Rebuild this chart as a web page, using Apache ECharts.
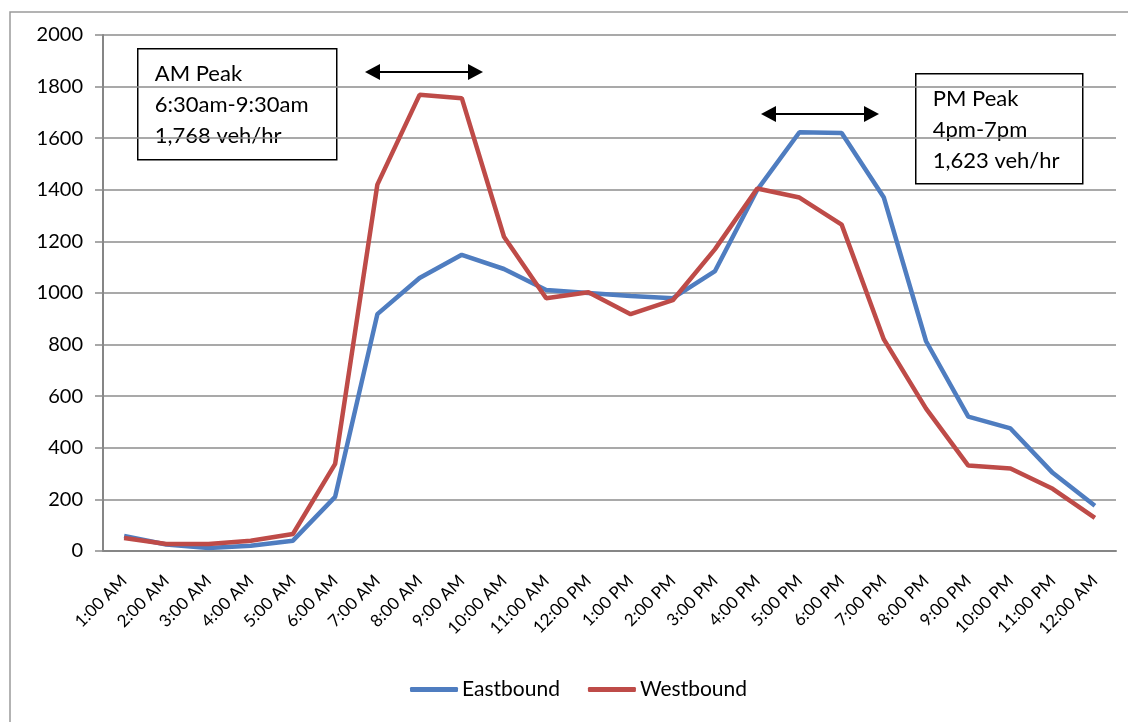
<!DOCTYPE html>
<html>
<head>
<meta charset="utf-8">
<script src="https://cdn.jsdelivr.net/npm/echarts@6/dist/echarts.min.js"></script>
<style>
  html, body { margin: 0; padding: 0; background: #fff; }
  #chart { width: 1128px; height: 722px; }
</style>
</head>
<body>
<div id="chart"></div>
<script>
const hours = ['1:00 AM', '2:00 AM', '3:00 AM', '4:00 AM', '5:00 AM', '6:00 AM', '7:00 AM', '8:00 AM',
  '9:00 AM', '10:00 AM', '11:00 AM', '12:00 PM', '1:00 PM', '2:00 PM', '3:00 PM', '4:00 PM',
  '5:00 PM', '6:00 PM', '7:00 PM', '8:00 PM', '9:00 PM', '10:00 PM', '11:00 PM', '12:00 AM'];
const eastbound = [58, 25, 12, 20, 40, 210, 918, 1058, 1148, 1093, 1012, 1000,
  988, 980, 1085, 1400, 1623, 1620, 1370, 813, 521, 475, 303, 175];
const westbound = [50, 27, 27, 40, 66, 338, 1420, 1768, 1755, 1218, 980, 1003,
  918, 972, 1170, 1405, 1370, 1265, 820, 552, 331, 320, 241, 128];
const amNote = ['AM Peak', '6:30am-9:30am', '1,768 veh/hr'];
const pmNote = ['PM Peak', '4pm-7pm', '1,623 veh/hr'];

const font = 'Lato, "Open Sans", sans-serif';
const gridColor = '#8c8c8c';

// boxed note with three lines of text
const noteBox = (x, y, w, h, lines) => ({
  type: 'group',
  left: x,
  top: y,
  children: [
    { type: 'rect', shape: { x: 0, y: 0, width: w, height: h }, style: { fill: '#fff', stroke: '#000', lineWidth: 1.5 } },
    {
      type: 'text', x: 17, y: 10,
      style: { text: lines.join('\n'), font: '22px ' + font, fill: '#000', lineHeight: 31 }
    }
  ]
});

// double headed arrow
const arrow = (x1, x2, y) => ({
  type: 'group',
  children: [
    { type: 'line', shape: { x1: x1 + 12, y1: y, x2: x2 - 12, y2: y }, style: { stroke: '#000', lineWidth: 2 } },
    { type: 'polygon', shape: { points: [[x1, y], [x1 + 15, y - 8], [x1 + 15, y + 8]] }, style: { fill: '#000' } },
    { type: 'polygon', shape: { points: [[x2, y], [x2 - 15, y - 8], [x2 - 15, y + 8]] }, style: { fill: '#000' } }
  ]
});

const chart = echarts.init(document.getElementById('chart'));
chart.setOption({
  animation: false,
  backgroundColor: '#fff',
  grid: { left: 103, right: 12, top: 35, bottom: 171 },
  legend: {
    bottom: 17,
    left: 405,
    icon: 'roundRect',
    itemWidth: 48,
    itemHeight: 5,
    itemGap: 28,
    textStyle: { fontFamily: font, fontSize: 21, color: '#000', padding: [0, 0, 0, -1] },
    data: ['Eastbound', 'Westbound']
  },
  xAxis: {
    type: 'category',
    data: hours,
    axisLine: { lineStyle: { color: '#868686', width: 2 } },
    axisTick: { length: 7, lineStyle: { color: '#868686', width: 1.5 } },
    axisLabel: {
      rotate: 45,
      margin: 27,
      interval: 0,
      fontFamily: font,
      fontSize: 17,
      color: '#000'
    }
  },
  yAxis: {
    type: 'value',
    min: 0,
    max: 2000,
    interval: 200,
    axisLine: { show: true, lineStyle: { color: '#868686', width: 2 } },
    axisTick: { show: true, length: 8, lineStyle: { color: gridColor, width: 1.5 } },
    splitLine: { lineStyle: { color: gridColor, width: 1.5 } },
    axisLabel: {
      margin: 20,
      fontFamily: font,
      fontSize: 20,
      color: '#000',
      formatter: (v) => String(v)
    }
  },
  series: [
    {
      name: 'Eastbound',
      type: 'line',
      data: eastbound,
      symbol: 'none',
      color: '#4f7dc0',
      lineStyle: { width: 4.5 }
    },
    {
      name: 'Westbound',
      type: 'line',
      data: westbound,
      symbol: 'none',
      color: '#be4b48',
      lineStyle: { width: 4.5 }
    }
  ],
  graphic: [
    { type: 'rect', shape: { x: 10, y: 12, width: 1130, height: 720 }, style: { fill: 'none', stroke: '#9a9a9a', lineWidth: 1.5 }, silent: true },
    noteBox(137, 48, 199, 111, amNote),
    noteBox(915, 73, 167, 110, pmNote),
    arrow(365, 483, 72),
    arrow(761, 879, 114)
  ]
});
window.addEventListener('resize', () => {
  chart.resize();
});
</script>
</body>
</html>
